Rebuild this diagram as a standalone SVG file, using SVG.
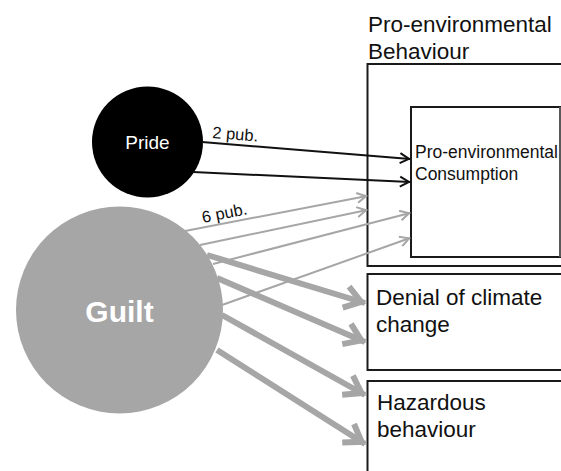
<svg xmlns="http://www.w3.org/2000/svg" width="561" height="471" viewBox="0 0 561 471">
<style>
text{font-family:"Liberation Sans",Arial,sans-serif;}
.box{fill:#fff;stroke:#1a1a1a;stroke-width:2;}
.lbl{font-size:22.5px;fill:#111;}
.blk{stroke:#111;stroke-width:2;fill:none;marker-end:url(#mb);}
.thin{stroke:#a6a6a6;stroke-width:2;fill:none;marker-end:url(#mt);}
.thick{stroke:#a6a6a6;stroke-width:6;fill:none;marker-end:url(#mk);}
.pub{font-size:16.5px;fill:#111;}
</style>
<defs>
<marker id="mb" markerUnits="userSpaceOnUse" orient="auto" refX="0" refY="0" markerWidth="20" markerHeight="20" overflow="visible">
<path d="M-10,-5 L-1,0 L-10,5" fill="none" stroke="#111" stroke-width="2"/>
</marker>
<marker id="mt" markerUnits="userSpaceOnUse" orient="auto" refX="0" refY="0" markerWidth="20" markerHeight="20" overflow="visible">
<path d="M-10,-5 L-1,0 L-10,5" fill="none" stroke="#a6a6a6" stroke-width="2"/>
</marker>
<marker id="mk" markerUnits="userSpaceOnUse" orient="auto" refX="0" refY="0" markerWidth="40" markerHeight="40" overflow="visible">
<path d="M-20,-11 L-4,0 L-20,11" fill="none" stroke="#a6a6a6" stroke-width="6"/>
</marker>
</defs>
<rect width="561" height="471" fill="#fff"/>
<g id="behaviour">
<rect class="box" x="367.5" y="64" width="210" height="202"/>
<text class="lbl" x="368" y="32">Pro-environmental</text>
<text class="lbl" x="368" y="59">Behaviour</text>
</g>
<g id="consumption">
<rect x="411" y="107" width="149" height="150" fill="#fff" stroke="#1a1a1a" stroke-width="2"/>
<line x1="560" y1="107" x2="560" y2="257" stroke="#999" stroke-width="1"/>
<text x="415" y="158" font-size="17.5" fill="#111">Pro-environmental</text>
<text x="415" y="180" font-size="17.5" fill="#111">Consumption</text>
</g>
<g id="denial">
<rect class="box" x="367.5" y="274" width="210" height="96"/>
<text class="lbl" x="376" y="305">Denial of climate</text>
<text class="lbl" x="376" y="332">change</text>
</g>
<g id="hazardous">
<rect class="box" x="367.5" y="381" width="210" height="110"/>
<text class="lbl" x="377" y="410">Hazardous</text>
<text class="lbl" x="377" y="437">behaviour</text>
</g>
<g id="pride">
<circle cx="147.5" cy="142" r="55.5" fill="#000"/>
<text x="147.5" y="149" font-size="19" fill="#fff" text-anchor="middle">Pride</text>
</g>
<g id="guilt">
<circle cx="119.5" cy="310" r="103.5" fill="#a6a6a6"/>
<text x="119.5" y="322" font-size="30" font-weight="bold" fill="#fff" text-anchor="middle">Guilt</text>
</g>
<g id="connectors">
<line class="blk" x1="202" y1="142" x2="410" y2="159"/>
<line class="blk" x1="193" y1="172" x2="410" y2="182"/>
<line class="thin" x1="185" y1="231" x2="367" y2="196"/>
<line class="thin" x1="200" y1="245" x2="367" y2="210"/>
<line class="thin" x1="213" y1="264" x2="410" y2="213"/>
<line class="thin" x1="222" y1="305" x2="410" y2="238"/>
<line class="thick" x1="207" y1="255" x2="365" y2="303"/>
<line class="thick" x1="217" y1="278" x2="365" y2="342"/>
<line class="thick" x1="222" y1="315" x2="365" y2="395"/>
<line class="thick" x1="217" y1="350" x2="365" y2="444"/>
<text class="pub" transform="translate(212,138) rotate(4.5)">2 pub.</text>
<text class="pub" transform="translate(203,223) rotate(-11)">6 pub.</text>
</g>
</svg>
